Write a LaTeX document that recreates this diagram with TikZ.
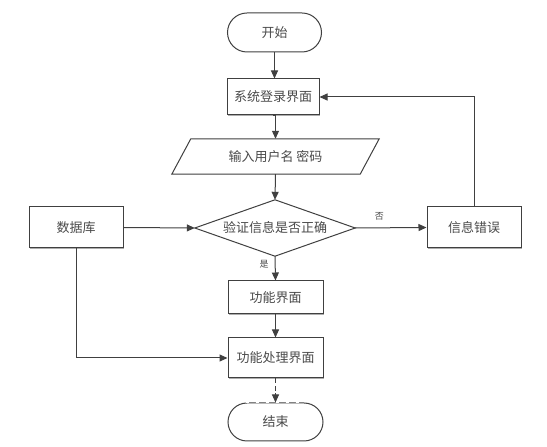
\documentclass[tikz,border=0pt]{standalone}
\usepackage{fontspec}
\setmainfont{Noto Sans CJK SC}
\usetikzlibrary{arrows.meta,shapes.misc,shadows,calc}
\definecolor{ln}{HTML}{404040}
\definecolor{tx}{HTML}{4A4A4A}
\tikzset{
  base/.style={draw=ln,line width=1pt,text=tx,font=\fontsize{13}{15}\selectfont,inner sep=0pt,fill=white},
  procbox/.style={base,rectangle,drop shadow={shadow xshift=1.2pt,shadow yshift=-1.2pt,fill=black!40,opacity=0.8}},
  term/.style={base,rounded rectangle},
  ghost/.style={draw=none,fill=none,text=tx,font=\fontsize{13}{15}\selectfont,inner sep=0pt},
  conn/.style={draw=ln,line width=1pt,-{Triangle[length=8pt,width=7pt]}},
  plainline/.style={draw=ln,line width=1pt},
  lbl/.style={text=tx,font=\fontsize{9}{10}\selectfont,inner sep=1pt}
}
\begin{document}
\begin{tikzpicture}[x=1pt,y=1pt]
\useasboundingbox (0,0) rectangle (547,447);
% nodes
\node[term,minimum width=94pt,minimum height=39pt] (start) at (274.5,414.5) {开始};
\node[procbox,minimum width=92pt,minimum height=36pt] (sys) at (273,350) {系统登录界面};
\node[ghost,minimum width=188pt,minimum height=35pt] (para) at (275.5,290.5) {};
\draw[plainline,fill=white] ($(para.north west)+(9.5,0)$) -- ($(para.north east)+(9.5,0)$) -- ($(para.south east)+(-9.5,0)$) -- ($(para.south west)+(-9.5,0)$) -- cycle;
\node[ghost] at (para.center) {输入用户名 密码};
\node[ghost,minimum width=160pt,minimum height=56pt] (dec) at (275,219) {};
\draw[plainline,fill=white] (dec.west) -- (dec.north) -- (dec.east) -- (dec.south) -- cycle;
\node[ghost] at (dec.center) {验证信息是否正确};
\node[procbox,minimum width=94pt,minimum height=41pt] (db) at (76,219.5) {数据库};
\node[procbox,minimum width=94pt,minimum height=41pt] (err) at (474,219.5) {信息错误};
\node[procbox,minimum width=95pt,minimum height=33pt] (func) at (275.5,149.5) {功能界面};
\node[procbox,minimum width=95pt,minimum height=40pt] (proc) at (275.5,89) {功能处理界面};
\node[term,minimum width=95pt,minimum height=38pt] (end) at (275.5,25) {结束};
\draw[white,line width=1.6pt,dash pattern=on 3pt off 7pt] ($(end.north)+(-30,0)$) -- ($(end.north)+(30,0)$);
% connectors
\draw[conn] (start.south) -- (start.south |- sys.north);
\draw[conn] (sys.south) -- (sys.south -| para.north) -- (para.north);
\draw[conn] (para.south) -- (dec.north);
\draw[conn] (dec.south) -- node[lbl,pos=0.35,left=5pt] {是} (func.north);
\draw[conn] (func.south) -- (proc.north);
\draw[conn,dash pattern=on 5pt off 2.5pt] (proc.south) -- (end.north);
\draw[conn] (db.east) -- (dec.west);
\draw[conn] (dec.east) -- node[lbl,pos=0.34,above=6pt] {否} (err.west);
\draw[conn] (err.north) |- (sys.east);
\draw[conn] (db.south) |- (proc.west);
\end{tikzpicture}
\end{document}
